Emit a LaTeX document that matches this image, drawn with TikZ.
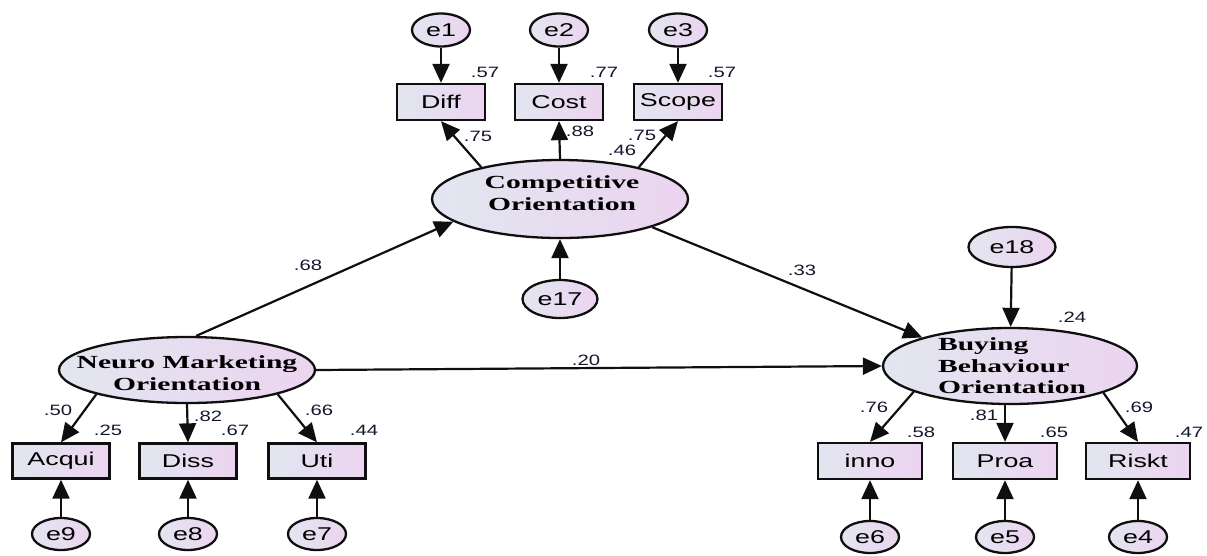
\documentclass[tikz,border=0pt]{standalone}
\usepackage{fontspec}
\usetikzlibrary{shapes.geometric,arrows.meta}
\newfontfamily\varfont[FakeStretch=1.45]{Liberation Sans}
\newfontfamily\latfont[FakeStretch=1.6]{Liberation Serif}
\newfontfamily\coeffont[FakeStretch=1.35]{Liberation Sans}
\definecolor{edge}{RGB}{15,15,15}
\definecolor{shadeL}{RGB}{226,230,240}
\definecolor{shadeR}{RGB}{236,212,240}
\definecolor{coefc}{RGB}{20,22,45}
\tikzset{
  filled/.style={left color=shadeL,right color=shadeR,draw=edge,line width=2.3pt},
  obsbox/.style={filled,rectangle,minimum height=36pt,inner sep=0pt,
    font=\varfont\fontsize{18.5}{20}\selectfont},
  errnode/.style={filled,ellipse,minimum width=58pt,minimum height=33pt,inner sep=0pt,
    font=\varfont\fontsize{18.5}{20}\selectfont},
  latent/.style={filled,ellipse,inner sep=0pt},
  lattext/.style={inner sep=0pt,font=\latfont\bfseries\fontsize{18.5}{21.5}\selectfont},
  coef/.style={inner sep=0pt,text=coefc,font=\coeffont\fontsize{15}{16}\selectfont},
  link/.style={draw=edge,line width=2.2pt,-{Triangle[length=19pt,width=17pt]}},
}
\begin{document}
\begin{tikzpicture}[x=1pt,y=-1pt]
\useasboundingbox (0,0) rectangle (1207,555);

% ---- Competitive Orientation block ----
\node[errnode] (e1) at (441,30) {e1};
\node[errnode] (e2) at (559,30) {e2};
\node[errnode] (e3) at (678,30) {e3};
\node[obsbox,minimum width=88pt] (diff)  at (441,102) {Diff};
\node[obsbox,minimum width=88pt] (cost)  at (559,102) {Cost};
\node[obsbox,minimum width=88pt] (scope) at (678,102) {Scope};
\node[latent,minimum width=256pt,minimum height=78pt] (co) at (560,199) {};
\node[lattext,align=center] (cotext) at (562,193) {Competitive\\Orientation};
\node[errnode,minimum width=75pt,minimum height=38pt] (e17) at (560,299) {e17};

% ---- Neuro Marketing Orientation block ----
\node[latent,minimum width=256pt,minimum height=66pt] (nmo) at (187,370) {};
\node[lattext,align=center] (nmotext) at (187,373) {Neuro Marketing\\Orientation};
\node[obsbox,minimum width=97pt,minimum height=35pt] (acqui) at (61,461) {Acqui};
\node[obsbox,minimum width=97pt,minimum height=35pt] (diss)  at (188,461) {Diss};
\node[obsbox,minimum width=97pt,minimum height=35pt] (uti)   at (317,461) {Uti};
\node[errnode,minimum height=32pt] (e9) at (61,534) {e9};
\node[errnode,minimum height=32pt] (e8) at (188,534) {e8};
\node[errnode,minimum height=32pt] (e7) at (317,534) {e7};

% ---- Buying Behaviour Orientation block ----
\node[errnode,minimum width=87pt,minimum height=40pt] (e18) at (1012,247) {e18};
\node[latent,minimum width=254pt,minimum height=76pt] (bbo) at (1010,366) {};
\node[lattext,align=left] (bbotext) at (1012,366) {Buying\\Behaviour\\Orientation};
\node[obsbox,minimum width=104pt] (inno)  at (870,461) {inno};
\node[obsbox,minimum width=104pt] (proa)  at (1005,461) {Proa};
\node[obsbox,minimum width=104pt] (riskt) at (1138,461) {Riskt};
\node[errnode,minimum height=32pt] (e6) at (870,537) {e6};
\node[errnode,minimum height=32pt] (e5) at (1005,537) {e5};
\node[errnode,minimum height=32pt] (e4) at (1138,537) {e4};

% ---- error terms ----
\draw[link] (e1) -- (diff);
\draw[link] (e2) -- (cost);
\draw[link] (e3) -- (scope);
\draw[link] (e17) -- (co);
\draw[link] (e9) -- (acqui);
\draw[link] (e8) -- (diss);
\draw[link] (e7) -- (uti);
\draw[link] (e18) -- (bbo);
\draw[link] (e6) -- (inno);
\draw[link] (e5) -- (proa);
\draw[link] (e4) -- (riskt);

% ---- loadings ----
\draw[link] (co.158) -- (diff.south);
\draw[link] (co.north) -- (cost.south);
\draw[link] (co.22) -- (scope.south);
\draw[link] (nmo.195) -- (acqui.north);
\draw[link] (nmo.south) -- (diss.north);
\draw[link] (nmo.-15) -- (uti.north);
\draw[link] (bbo.195) -- (inno.north);
\draw[link] (bbo.south -| proa.north) -- (proa.north);
\draw[link] (bbo.-16) -- (riskt.north);

% ---- structural paths ----
\draw[link] (nmo.75) -- (co.192);
\draw[link] (co.-17) -- (bbo.162);
\draw[link] (nmo.east) -- (bbo.west);

% ---- coefficients ----
\node[coef] (r1) at (485,72) {.57};
\node[coef] (r2) at (604,72) {.77};
\node[coef] (r3) at (722,72) {.57};
\node[coef] (l1) at (478,136) {.75};
\node[coef] (l2) at (580,131) {.88};
\node[coef] (l3) at (642,135) {.75};
\node[coef] (rco) at (622,150) {.46};
\node[coef] (p1) at (308,265) {.68};
\node[coef] (p2) at (802,270) {.33};
\node[coef] (p3) at (586,360) {.20};
\node[coef] (rbb) at (1072,317) {.24};
\node[coef] (l4) at (58,410) {.50};
\node[coef] (r4) at (108,430) {.25};
\node[coef] (l5) at (208,416) {.82};
\node[coef] (r5) at (235,430) {.67};
\node[coef] (l6) at (319,410) {.66};
\node[coef] (r6) at (364,430) {.44};
\node[coef] (l7) at (874,407) {.76};
\node[coef] (r7) at (921,432) {.58};
\node[coef] (l8) at (984,415) {.81};
\node[coef] (r8) at (1054,432) {.65};
\node[coef] (l9) at (1139,407) {.69};
\node[coef] (r9) at (1189,432) {.47};
\end{tikzpicture}
\end{document}
